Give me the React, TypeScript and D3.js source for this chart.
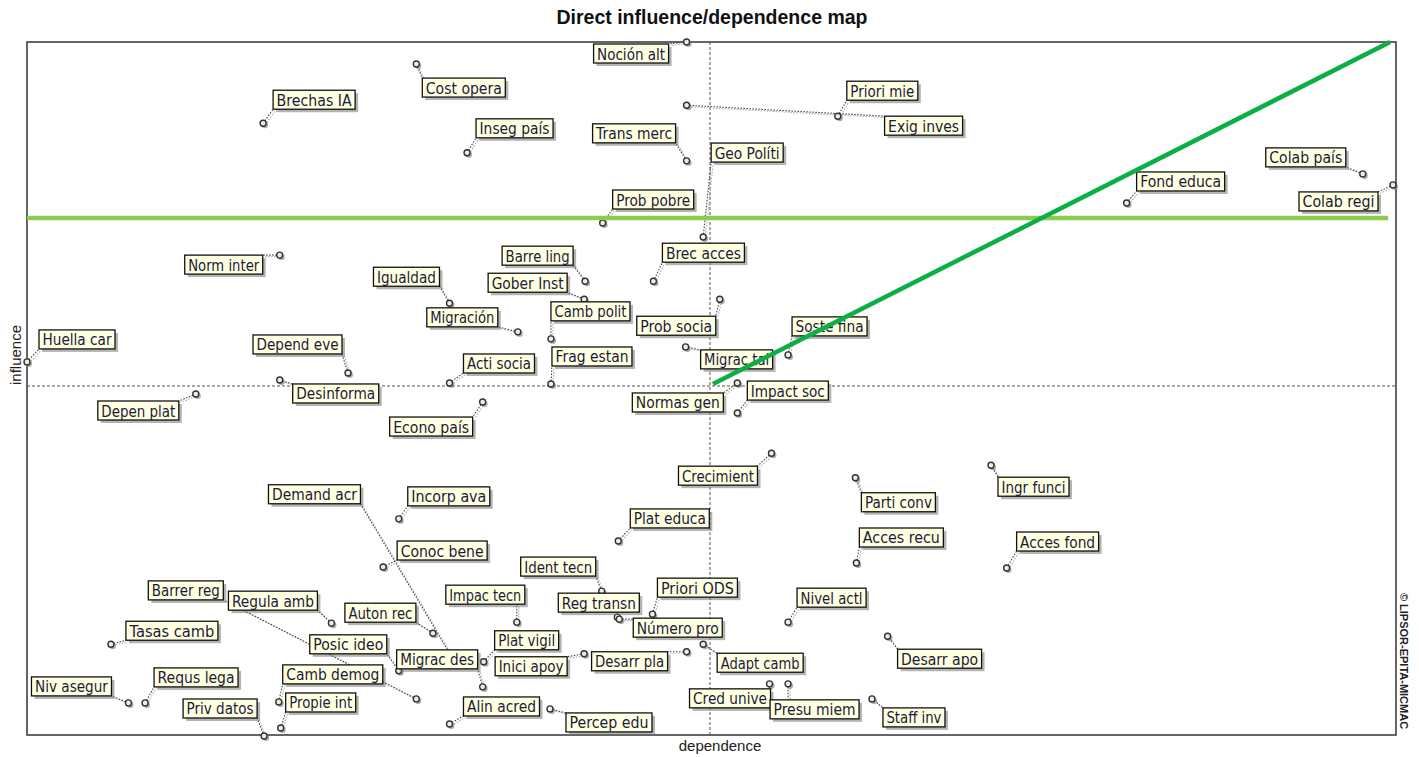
import React from "react";
import * as d3 from "d3";

const variables = [
  "Noción alt", "Cost opera", "Brechas IA", "Inseg país", "Trans merc", "Priori mie", "Exig inves", "Geo Políti",
  "Prob pobre", "Fond educa", "Colab país", "Colab regi", "Norm inter", "Barre ling", "Brec acces", "Igualdad",
  "Gober Inst", "Migración", "Camb polit", "Prob socia", "Huella car", "Depend eve", "Soste fina", "Acti socia",
  "Frag estan", "Migrac tal", "Desinforma", "Depen plat", "Impact soc", "Normas gen", "Econo país", "Crecimient",
  "Ingr funci", "Parti conv", "Demand acr", "Incorp ava", "Plat educa", "Acces recu", "Acces fond", "Conoc bene",
  "Ident tecn", "Priori ODS", "Barrer reg", "Regula amb", "Impac tecn", "Nivel actl", "Reg transn", "Auton rec",
  "Número pro", "Tasas camb", "Posic ideo", "Plat vigil", "Desarr apo", "Migrac des", "Inici apoy", "Desarr pla",
  "Adapt camb", "Camb demog", "Requs lega", "Niv asegur", "Cred unive", "Propie int", "Presu miem", "Priv datos",
  "Alin acred", "Staff inv", "Percep edu",
];

const dependence = [
  67.6, 39.9, 24.2, 45.1, 67.6, 83.1, 67.6, 69.3,
  59.0, 112.7, 136.9, 140.0, 25.9, 57.2, 64.2, 43.3,
  57.1, 50.3, 53.7, 71.0, 0.0, 32.9, 78.0, 43.3,
  53.7, 67.5, 25.9, 17.3, 72.8, 72.8, 46.7, 76.3,
  98.8, 84.9, 43.4, 38.1, 60.6, 85.0, 100.4, 36.5,
  58.9, 64.1, 39.9, 31.2, 50.2, 78.0, 60.5, 41.6,
  60.7, 8.6, 38.1, 46.8, 88.2, 46.7, 57.1, 67.6,
  69.3, 25.8, 12.1, 10.4, 76.1, 26.0, 78.0, 24.3,
  43.3, 86.6, 53.6,
];

const influence = [
  138.6, 134.2, 122.4, 116.5, 114.9, 123.8, 126.0, 99.7,
  102.5, 106.5, 112.3, 110.1, 96.1, 90.9, 90.9, 86.5,
  87.3, 80.8, 79.4, 87.3, 74.8, 72.6, 76.2, 70.6,
  70.4, 77.8, 71.2, 68.4, 64.6, 70.6, 66.8, 56.6,
  54.2, 51.7, 16.4, 43.5, 39.1, 34.7, 33.7, 33.9,
  29.1, 24.5, 7.6, 22.7, 22.9, 22.9, 23.9, 20.7,
  23.5, 18.5, 13.2, 15.0, 20.1, 10.0, 16.6, 17.0,
  18.5, 7.0, 6.8, 6.8, 10.6, 1.8, 10.6, 0.2,
  2.6, 7.6, 5.6,
];

const depMax = 140;
const infMax = 138.6;
const meanValue = 70;
const strategicInfluence = 103.5;

// label layout: [dx, dy, width] of label box relative to the point
const labelLayout: [number, number, number][] = [
  [-93, 2, 75], [6, 14, 83], [10, -33, 82], [9, -34, 77], [-94, -37, 83], [9, -35, 71], [198, 11, 78], [8, -94, 72],
  [10, -33, 81], [10, -31, 88], [-97, -26, 80], [-94, 7, 79], [-95, 0, 78], [-83, -35, 71], [9, -38, 82], [-76, -36, 66],
  [-96, -26, 79], [-91, -24, 71], [0, -37, 79], [-83, 17, 79], [12, -32, 76], [-95, -38, 89], [4, -38, 75], [14, -29, 71],
  [1, -37, 80], [15, 3, 72], [13, 4, 86], [-98, 7, 81], [10, -32, 81], [-105, 10, 91], [-93, 15, 83], [-93, 13, 79],
  [7, 12, 71], [6, 15, 74], [-182, -170, 92], [9, -32, 82], [12, -32, 79], [3, -35, 84], [10, -36, 82], [14, -26, 90],
  [-81, -34, 75], [5, -36, 80], [-268, -118, 75], [-103, -32, 89], [-71, -37, 79], [9, -34, 69], [-59, -24, 81], [-88, -30, 71],
  [14, -1, 89], [15, -23, 92], [-89, -36, 77], [11, -31, 64], [10, 13, 84], [-86, -37, 81], [-89, 3, 72], [-95, 0, 76],
  [14, 9, 86], [4, -37, 100], [9, -35, 84], [-97, -26, 80], [-80, 5, 81], [5, -35, 70], [-18, 16, 89], [-81, -37, 74],
  [14, -27, 76], [11, 9, 62], [16, 4, 86],
];

const W = 1419;
const H = 757;
const frame = { left: 27, top: 42, right: 1396, bottom: 735 };
const LABEL_H = 19;

export default function App() {
  const x = d3.scaleLinear().domain([0, depMax]).range([27, 1393]);
  const y = d3.scaleLinear().domain([0, infMax]).range([737, 42]);

  const items = variables.map((name, i) => {
    const px = x(dependence[i]);
    const py = y(influence[i]);
    const [dx, dy, w] = labelLayout[i];
    const bx = px + dx;
    const by = py + dy;
    const cx = Math.max(bx, Math.min(px, bx + w));
    const cy = Math.max(by, Math.min(py, by + LABEL_H));
    return { name, px, py, bx, by, w, cx, cy };
  });

  const line = d3.line<[number, number]>();

  return (
    <svg width={W} height={H} style={{ position: "absolute", left: 0, top: 0, background: "#fff" }}>
      <text x={712} y={24} textAnchor="middle" fontFamily="Liberation Sans, Arial, sans-serif" fontWeight="bold" fontSize={19.5} fill="#111">
        Direct influence/dependence map
      </text>
      <rect x={frame.left} y={frame.top} width={frame.right - frame.left} height={frame.bottom - frame.top} fill="#fff" stroke="#333" strokeWidth={1.5} />
      {/* mean lines */}
      <line x1={x(meanValue)} x2={x(meanValue)} y1={frame.top} y2={frame.bottom} stroke="#555" strokeWidth={1} strokeDasharray="3 2" />
      <line x1={frame.left} x2={frame.right} y1={y(meanValue)} y2={y(meanValue)} stroke="#555" strokeWidth={1} strokeDasharray="3 2" />

      {/* connectors */}
      {items.map((d, i) => (
        <g key={"c" + i}>
          <path d={line([[d.px + 2, d.py + 1.5], [d.cx + 2, d.cy + 1.5]]) || ""} stroke="#b0b0b0" strokeWidth={1.2} strokeDasharray="1.5 1.5" fill="none" />
          <path d={line([[d.px, d.py], [d.cx, d.cy]]) || ""} stroke="#444" strokeWidth={1.1} strokeDasharray="1.5 1.5" fill="none" />
        </g>
      ))}

      {/* points */}
      {items.map((d, i) => (
        <g key={"p" + i}>
          <circle cx={d.px + 1.8} cy={d.py + 1.8} r={3.2} fill="#888" opacity={0.7} />
          <circle cx={d.px} cy={d.py} r={3} fill="#eeeedd" stroke="#333" strokeWidth={1.4} />
        </g>
      ))}

      {/* labels */}
      {items.map((d, i) => (
        <g key={"l" + i}>
          <rect x={d.bx + 3} y={d.by + 3} width={d.w} height={LABEL_H} fill="#777" opacity={0.55} />
          <rect x={d.bx} y={d.by} width={d.w} height={LABEL_H} fill="#FFFFE2" stroke="#111" strokeWidth={1.3} />
          <text
            x={d.bx + 3.5}
            y={d.by + 15.5}
            fontFamily="DejaVu Sans, Verdana, sans-serif"
            fontSize={16}
            fill="#1b1a38"
            textLength={d.w - 7}
            lengthAdjust="spacingAndGlyphs"
          >
            {d.name}
          </text>
        </g>
      ))}

      {/* green lines */}
      <line x1={x(0)} x2={x(139.5)} y1={y(strategicInfluence)} y2={y(strategicInfluence)} stroke="#8DCB4C" strokeWidth={4.5} />
      <line x1={x(70.3)} y1={y(70.4)} x2={x(139.7)} y2={y(infMax)} stroke="#0BAF45" strokeWidth={4.5} />

      <text x={720} y={751} textAnchor="middle" fontFamily="Liberation Sans, Arial, sans-serif" fontSize={15} fill="#222">
        dependence
      </text>
      <text transform="translate(21,355) rotate(-90)" textAnchor="middle" fontFamily="Liberation Sans, Arial, sans-serif" fontSize={15} fill="#222">
        influence
      </text>
      <text transform="translate(1400,661) rotate(90)" textAnchor="middle" fontFamily="Liberation Sans, Arial, sans-serif" fontWeight="bold" fontSize={11} fill="#222">
        © LIPSOR-EPITA-MICMAC
      </text>
    </svg>
  );
}
